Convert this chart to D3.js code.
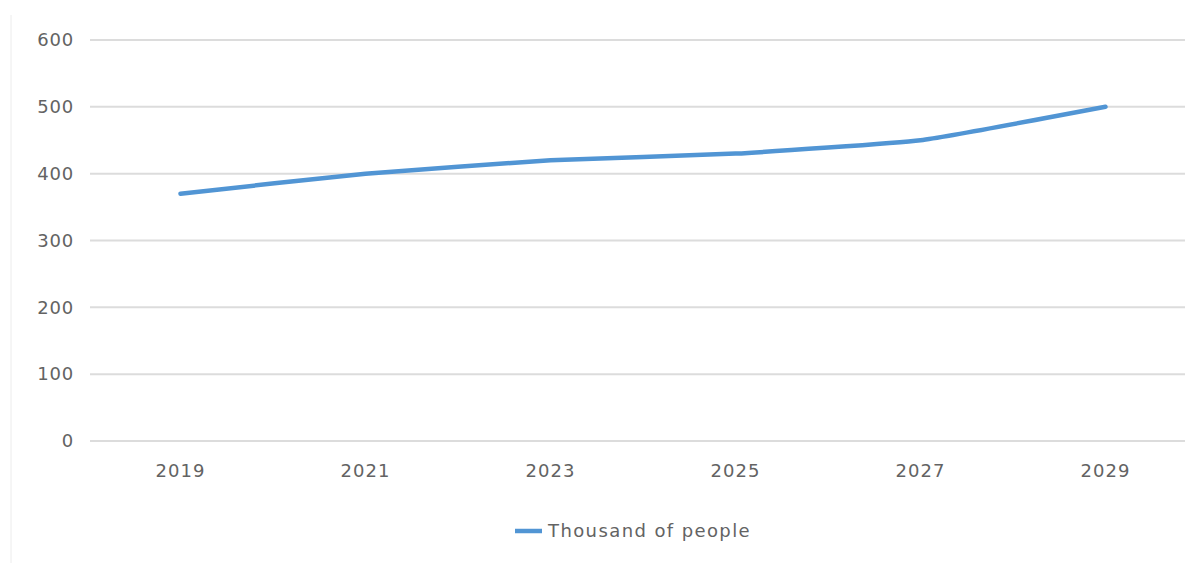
<!DOCTYPE html>
<html>
<head>
<meta charset="utf-8">
<script src="https://cdn.jsdelivr.net/npm/d3@7"></script>
<style>
  body { margin: 0; background: #fff; }
  text { font-family: "DejaVu Sans", sans-serif; fill: #636363; }
</style>
</head>
<body>
<script>
// chart data
const years = ["2019", "2021", "2023", "2025", "2027", "2029"];
const people = [370, 400, 420, 430, 450, 500];
const yTicks = [0, 100, 200, 300, 400, 500, 600];
const seriesName = "Thousand of people";

const width = 1185;
const height = 563;

const svg = d3.select("body").append("svg")
    .attr("width", width)
    .attr("height", height);

// faint frame edge on the left
svg.append("line")
    .attr("x1", 11).attr("x2", 11)
    .attr("y1", 15).attr("y2", height)
    .style("stroke", "#ececec")
    .style("stroke-width", 1);

const x = d3.scalePoint()
    .domain(years)
    .range([88, 1198])
    .padding(0.5);

const y = d3.scaleLinear()
    .domain([0, 600])
    .range([441, 40]);

// gridlines
svg.selectAll(".grid")
    .data(yTicks)
    .enter()
    .append("line")
    .attr("class", "grid")
    .attr("x1", 90)
    .attr("x2", width)
    .attr("y1", d => y(d))
    .attr("y2", d => y(d))
    .style("stroke", "#dcdcdc")
    .style("stroke-width", 2);

// y labels
svg.selectAll(".ylab")
    .data(yTicks)
    .enter()
    .append("text")
    .attr("class", "ylab")
    .attr("x", 74)
    .attr("y", d => y(d))
    .attr("dy", "0.35em")
    .attr("text-anchor", "end")
    .style("font-size", "18px")
    .style("letter-spacing", "0.8px")
    .text(d => d);

// x labels
svg.selectAll(".xlab")
    .data(years)
    .enter()
    .append("text")
    .attr("class", "xlab")
    .attr("x", d => x(d))
    .attr("y", 471)
    .attr("dy", "0.35em")
    .attr("text-anchor", "middle")
    .style("font-size", "18px")
    .style("letter-spacing", "1px")
    .text(d => d);

// the line, lightly smoothed
const line = d3.line()
    .x((d, i) => x(years[i]))
    .y(d => y(d))
    .curve(d3.curveCardinal.tension(0.6));

svg.append("path")
    .datum(people)
    .attr("d", line)
    .style("fill", "none")
    .style("stroke", "#5195d4")
    .style("stroke-width", 4.5)
    .style("stroke-linecap", "round");

// legend
svg.append("line")
    .attr("x1", 515).attr("x2", 542)
    .attr("y1", 531).attr("y2", 531)
    .style("stroke", "#5195d4")
    .style("stroke-width", 4.5);

svg.append("text")
    .attr("x", 548)
    .attr("y", 531)
    .attr("dy", "0.35em")
    .style("font-size", "18px")
    .style("letter-spacing", "1.4px")
    .text(seriesName);
</script>
</body>
</html>
